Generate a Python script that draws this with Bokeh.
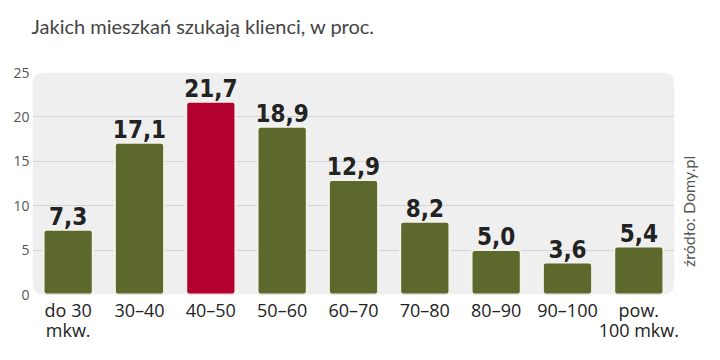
from bokeh.plotting import figure
from bokeh.models import FactorRange, Range1d, BoxAnnotation, FixedTicker, ColumnDataSource, LinearAxis, Title
from bokeh.core.properties import value
from bokeh.embed import file_html
from bokeh.resources import INLINE
import math

categories = ["do 30\nmkw.", "30–40", "40–50", "50–60", "60–70", "70–80", "80–90", "90–100", "pow.\n100 mkw."]
values = [7.3, 17.1, 21.7, 18.9, 12.9, 8.2, 5.0, 3.6, 5.4]
highlight = "40–50"
y_ticks = [0, 5, 10, 15, 20, 25]
title_text = "Jakich mieszkań szukają klienci, w proc."
source_text = "źródło: Domy.pl"

OLIVE = "#5d682c"
RED = "#b2002f"

colors = [RED if c == highlight else OLIVE for c in categories]
labels = [f"{v:.1f}".replace(".", ",") for v in values]
src = ColumnDataSource(dict(cat=categories, val=values, color=colors, label=labels))

p = figure(width=710, height=344, x_range=FactorRange(*categories, range_padding=0),
           y_range=Range1d(0, 25), output_backend="svg", toolbar_location=None,
           min_border_left=32, min_border_right=36, min_border_top=72, min_border_bottom=46)
p.outline_line_color = None
p.background_fill_color = None
p.border_fill_color = "white"

# spacer (nearest the frame), then the real title further out
p.add_layout(Title(text=" ", text_font_size="1px", standoff=32), "above")
p.add_layout(Title(text=title_text, text_font="Lato", text_font_style="normal",
                   text_font_size="20px", text_color="#444444", align="left",
                   vertical_align="bottom", offset=-1, standoff=0), "above")

bg = BoxAnnotation(fill_color="#efefef", fill_alpha=1, line_color=None, border_radius=10, level="image")
p.add_layout(bg)

p.vbar(x="cat", top="val", width=0.69, source=src, fill_color="color",
       line_color="#f3f2ea", line_width=2, border_radius=3)

p.text(x="cat", y="val", text="label", source=src, y_offset=-5,
       text_align="center", text_baseline="bottom",
       text_font=value("DejaVu Sans Condensed"), text_font_style="bold",
       text_font_size="24px", text_color="#222222")

p.xgrid.grid_line_color = None
p.ygrid.grid_line_color = "#d4d4d4"
p.ygrid.grid_line_width = 1
p.yaxis.ticker = FixedTicker(ticks=y_ticks)
p.yaxis.axis_line_color = None
p.yaxis.major_tick_line_color = None
p.yaxis.minor_tick_line_color = None
p.yaxis.major_tick_out = 0
p.yaxis.major_tick_in = 0
p.yaxis.minor_tick_out = 0
p.yaxis.major_label_standoff = 3
p.yaxis.major_label_text_font = "Open Sans"
p.yaxis.major_label_text_font_size = "14px"
p.yaxis.major_label_text_color = "#555555"

p.xaxis.axis_line_color = None
p.xaxis.major_tick_line_color = None
p.xaxis.major_tick_out = 0
p.xaxis.major_tick_in = 0
p.xaxis.major_label_standoff = 3
p.xaxis.major_label_text_font = "Open Sans"
p.xaxis.major_label_text_font_size = "18px"
p.xaxis.major_label_text_color = "#222222"
p.xaxis.major_label_text_line_height = 0.85

src_axis = LinearAxis(ticker=FixedTicker(ticks=[3.1]), major_label_overrides={3.1: source_text},
                      axis_line_color=None, major_tick_line_color=None, minor_tick_line_color=None,
                      major_tick_out=0, major_tick_in=0, minor_tick_out=0,
                      major_label_orientation=math.pi / 2, major_label_standoff=14,
                      major_label_text_font="Lato", major_label_text_font_size="16px",
                      major_label_text_color="#555555")
p.add_layout(src_axis, "right")

open("out.html", "w").write(file_html(p, INLINE))
